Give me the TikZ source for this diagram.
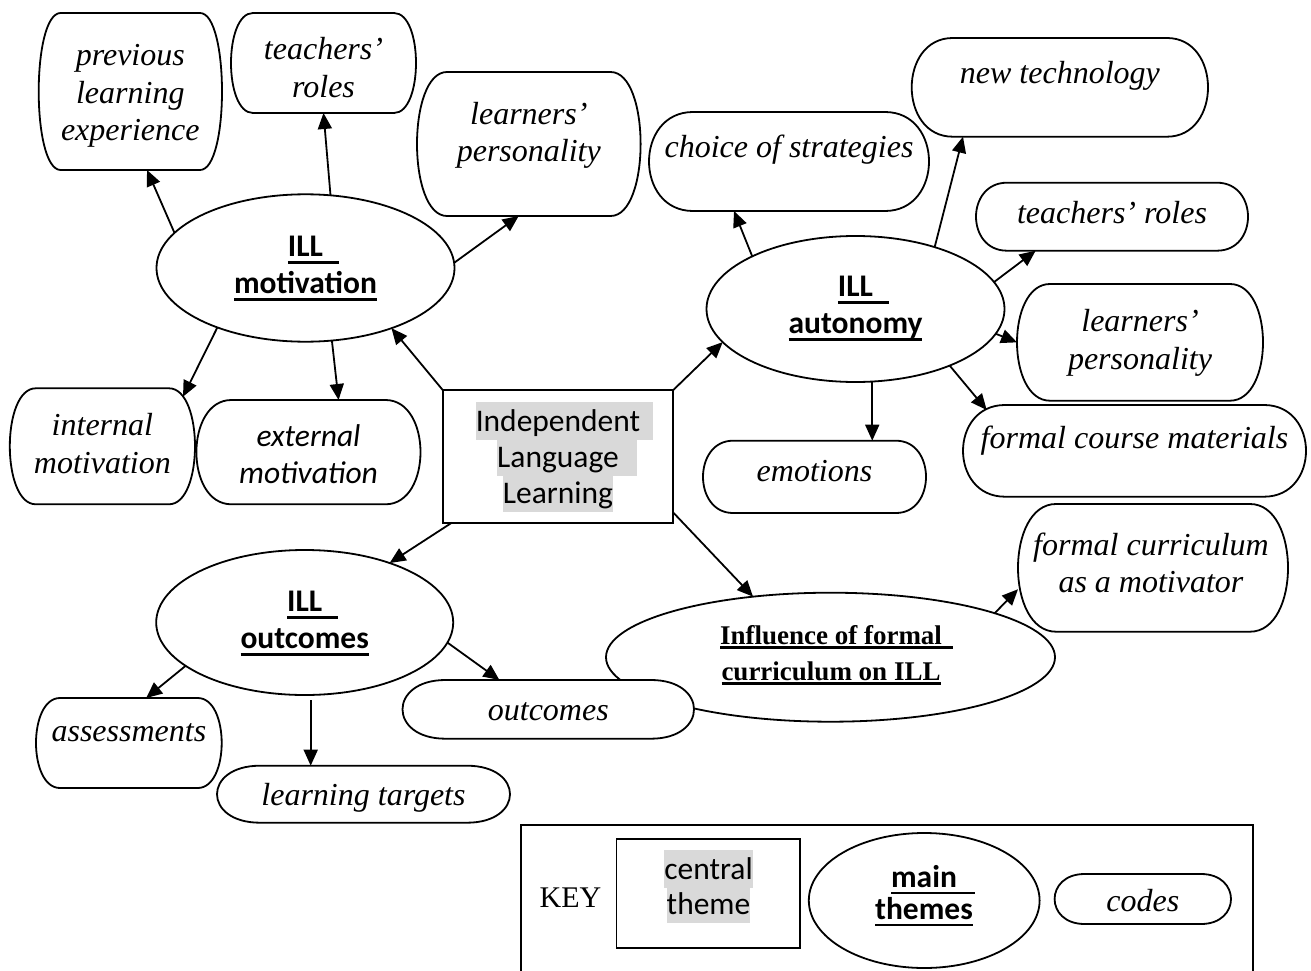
\documentclass[tikz,border=0pt]{standalone}
\usepackage{fontspec}
\setmainfont{Liberation Serif}
\newfontfamily\calibri{Carlito}
\usetikzlibrary{shapes.geometric,arrows.meta,calc}
\definecolor{hlgray}{HTML}{D9D9D9}

\newsavebox\markbox
% thick underline: #1 raise, #2 extra length past the text, #3 text
\newcommand\thickul[3]{\sbox\markbox{#3}%
  \rlap{\smash{\rule[#1]{\dimexpr\wd\markbox+#2\relax}{2.7pt}}}\usebox\markbox}
% centred stack of lines, baseline on the first line
\newcommand\lines[1]{\begin{tabular}[t]{@{}c@{}}#1\end{tabular}}
% rounded code box: #1 name, #2 left, #3 top, #4 right, #5 bottom, #6 inset of the straight edge
\newcommand\codebox[6]{%
  \node[holder, minimum width={#4-#2}, minimum height={#5-#3}] (#1) at ({(#2+#4)/2},{(#3+#5)/2}) {};
  \draw[codeline] ($(#1.north west)+(#6,0)$) -- ($(#1.north east)+(-#6,0)$)
    .. controls +({4/3*#6},0) and +({4/3*#6},0) .. ($(#1.south east)+(-#6,0)$)
    -- ($(#1.south west)+(#6,0)$)
    .. controls +({-4/3*#6},0) and +({-4/3*#6},0) .. ($(#1.north west)+(#6,0)$)
    -- cycle;}

\begin{document}
\begin{tikzpicture}[x=1pt,y=-1pt,
  holder/.style={inner sep=0pt,outer sep=0pt},
  codeline/.style={line width=1.8pt,fill=white},
  theme/.style={ellipse,draw,line width=1.8pt,inner sep=0pt,outer sep=0pt},
  arr/.style={line width=1.8pt,-{Triangle[length=16pt,width=14pt]}},
  code/.style={anchor=base,inner sep=0pt,font=\fontsize{32}{37.5}\selectfont\itshape},
  sanscode/.style={anchor=base,inner sep=0pt,font=\calibri\itshape\fontsize{31.5}{37.3}\selectfont},
  themetext/.style={anchor=base,inner sep=0pt,font=\calibri\bfseries\fontsize{31.5}{36.6}\selectfont},
  seriftheme/.style={anchor=base,inner sep=0pt,font=\bfseries\fontsize{27}{36}\selectfont},
  hlline/.style={anchor=base,inner sep=0pt,outer sep=0pt,fill=hlgray,text height=29pt,text depth=8.5pt,
    font=\calibri\fontsize{31.5}{36.3}\selectfont},
]
\useasboundingbox (0,0) rectangle (1311,971);

% ---- main themes
\node[theme,minimum width=298,minimum height=147.4] (mot) at (305.5,268) {};
\node[theme,minimum width=298,minimum height=146] (aut) at (855.5,309) {};
\node[theme,minimum width=297,minimum height=145] (out) at (304.7,622.5) {};
\node[theme,minimum width=449,minimum height=129] (inf) at (830.5,657.2) {};

\node[themetext] (mot-t) at (305.5,256.7) {\lines{\thickul{-7.2pt}{16pt}{ILL}\\\thickul{-7.2pt}{0pt}{motivation}}};
\node[themetext] (aut-t) at (855.5,296.7) {\lines{\thickul{-7.2pt}{16pt}{ILL}\\\thickul{-7.2pt}{0pt}{autonomy}}};
\node[themetext] (out-t) at (304.7,611.7) {\lines{\thickul{-7.2pt}{16pt}{ILL}\\\thickul{-7.2pt}{0pt}{outcomes}}};
\node[seriftheme] (inf-t) at (831,644) {\lines{\thickul{-4.8pt}{11pt}{Influence of formal}\\\thickul{-4.8pt}{0pt}{curriculum on ILL}}};

% ---- central theme (each line highlighted, trailing blank included)
\node[holder,draw,line width=1.8pt,minimum width=230.6,minimum height=132.7] (cen) at (558,456.35) {};
\node[hlline] (cen-l1) at (564.5,431) {Independent\hspace*{13pt}};
\node[hlline] (cen-l2) at (567,467.3) {Language\hspace*{18pt}};
\node[hlline] (cen-l3) at (558,503.6) {Learning};

% ---- codes
\codebox{prev}{38.7}{13}{222}{170}{22}
\node[code] (prev-t) at (130.3,66) {\lines{previous\\learning\\experience}};
\codebox{tr1}{231}{13}{416}{113}{22}
\node[code] (tr1-t) at (323.5,60) {\lines{teachers’\\roles}};
\codebox{lp1}{417}{72}{640.6}{216}{30}
\node[code] (lp1-t) at (528.8,124.5) {\lines{learners’\\personality}};
\codebox{im}{9.8}{388.3}{195}{504.3}{26}
\node[code] (im-t) at (102.4,435.7) {\lines{internal\\motivation}};
\codebox{em}{196.4}{400}{420.5}{504.3}{35}
\node[sanscode] (em-t) at (308.5,446) {\lines{external\\motivation}};

\codebox{cs}{649}{112}{929}{211}{44}
\node[code] (cs-t) at (789,157.5) {choice of strategies};
\codebox{nt}{911.7}{38}{1208}{136.7}{41}
\node[code] (nt-t) at (1059.9,83.3) {new technology};
\codebox{tr2}{976}{182.7}{1248}{250.7}{31}
\node[code] (tr2-t) at (1112,223) {teachers’ roles};
\codebox{lp2}{1017}{284}{1263}{400.7}{33}
\node[code] (lp2-t) at (1140,331.7) {\lines{learners’\\personality}};
\codebox{emo}{703}{440.7}{926}{513}{30}
\node[code] (emo-t) at (814.5,481.7) {emotions};
\codebox{fcm}{963}{405}{1306}{496.7}{42}
\node[code] (fcm-t) at (1134.5,448.3) {formal course materials};
\codebox{fcm2}{1018}{504}{1288}{631.7}{38}
\node[code] (fcm2-t) at (1151,555) {\lines{formal curriculum\\as a motivator}};

\codebox{ass}{36}{698}{221.7}{788}{24}
\node[code] (ass-t) at (128.9,741.7) {assessments};
\codebox{lt}{217}{765.7}{510}{822.7}{43}
\node[code] (lt-t) at (363.5,805) {learning targets};
\codebox{ocb}{402.5}{680}{694}{738.7}{43}
\node[code] (ocb-t) at (548.3,720) {outcomes};

% ---- connectors
\draw[arr] (mot.165) -- (prev.-78);
\draw[arr] (mot.71) -- (tr1.south);
\draw[arr] (mot.2) -- (lp1.-98);
\draw[arr] (mot.214) -- ($(im.north east)+(-12,8.4)$);
\draw[arr] (mot.-70) -- (em.60);
\draw[arr] (cen.north west) -- (mot.-35);
\draw[arr] (cen.north east) -- (aut.194);
\draw[arr] (cen.212) -- (out.35);
\draw[arr] (cen.-26) -- (inf.142);
\draw[arr] (aut.153) -- (cs.-138);
\draw[arr] (aut.38) -- (nt.-153);
\draw[arr] (aut.11) -- (tr2.-156);
\draw[arr] (aut.-10) -- (lp2.west);
\draw[arr] (aut.-77) -- (aut.-77 |- emo.north);
\draw[arr] (aut.-31) -- ($(fcm.north west)+(23.7,5)$);
\draw[arr] (inf.15) -- (fcm2.189);
\draw[arr] (out.200) -- (ass.69);
\coordinate (ltstart) at ($(out.south)+(6,5)$);
\draw[arr] (ltstart) -- (ltstart |- lt.north);
\draw[arr] (out.-8) -- (ocb.149);

% ---- key
\draw[line width=1.8pt] (520.7,971) -- (520.7,825) -- (1252.7,825) -- (1252.7,971);
\node[anchor=base,inner sep=0pt,font=\fontsize{30}{32}\selectfont] (key-t) at (570.5,907) {KEY};
\node[holder,draw,line width=1.8pt,minimum width=183.6,minimum height=108.7] (key-c) at (708.2,893.35) {};
\node[hlline] (key-l1) at (708.5,879) {central};
\node[hlline] (key-l2) at (708.5,914.7) {theme};
\node[theme,minimum width=230.8,minimum height=135] (key-m) at (924.2,900.5) {};
\node[anchor=base,inner sep=0pt,font=\calibri\bfseries\fontsize{31.5}{32}\selectfont] (key-mt) at (924,887) {\lines{\thickul{-7.2pt}{18pt}{main}\\\thickul{-7.2pt}{0pt}{themes}}};
\codebox{codes}{1054.6}{874}{1231}{924}{30}
\node[code] (codes-t) at (1142.8,911.7) {codes};
\end{tikzpicture}
\end{document}
